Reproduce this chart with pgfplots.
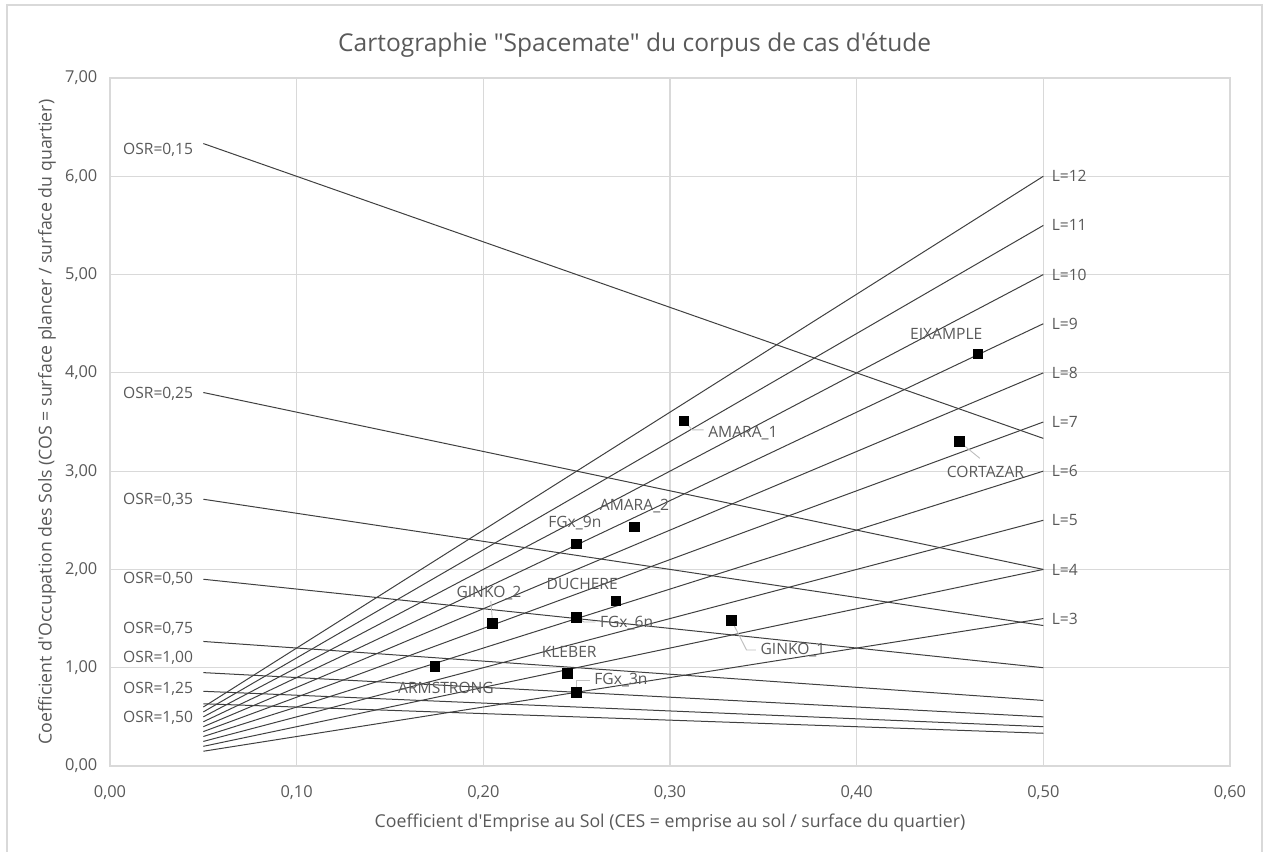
\documentclass[border=0pt]{standalone}
\usepackage{pgfplots}
\pgfplotsset{compat=1.18}
\usepackage{fontspec}
\setmainfont{Open Sans}[Ligatures=TeXOff]
\definecolor{txt}{HTML}{595959}
\definecolor{ln}{HTML}{404040}
\definecolor{grd}{HTML}{D9D9D9}
\definecolor{lead}{HTML}{BFBFBF}
\newcommand{\lbl}{\fontsize{11.7}{13}\selectfont\color{txt}}
\begin{document}
\begin{tikzpicture}
\useasboundingbox (0,0) rectangle (951pt,639pt);
\draw[grd, line width=1.2pt] (5.25pt,-10pt) rectangle (946.5pt,635.25pt);
\node[font=\fontsize{18.4}{22}\selectfont, text=txt] at (476pt,605pt) {Cartographie "Spacemate" du corpus de cas d'étude};
\begin{axis}[
    at={(82.5pt,64.5pt)}, anchor=south west,
    scale only axis, width=840pt, height=516pt,
    xmin=0, xmax=0.6, ymin=0, ymax=7,
    xtick={0,0.1,...,0.6}, ytick={0,1,...,7},
    grid=major, grid style={grd, line width=0.8pt},
    axis line style={grd, line width=0.8pt},
    major tick length=0pt,
    tick label style={font=\fontsize{12.3}{14}\selectfont, text=txt},
    /pgf/number format/.cd, fixed, fixed zerofill, precision=2, use comma, assume math mode=true,
    /pgfplots/.cd,
    xticklabel style={yshift=-11pt},
    yticklabel style={xshift=-6pt},
    xlabel={Coefficient d'Emprise au Sol (CES = emprise au sol / surface du quartier)},
    ylabel={Coefficient d'Occupation des Sols (COS = surface plancer / surface du quartier)},
    label style={font=\fontsize{13.3}{15}\selectfont, text=txt},
    xlabel style={yshift=-4pt},
    ylabel style={yshift=0pt},
    clip=false,
]
% lignes L (COS = L x CES)
\pgfplotsset{every axis plot/.append style={ln, line width=0.75pt}}
\addplot[no marks] coordinates {(0.05,0.15) (0.5,1.5)};
\addplot[no marks] coordinates {(0.05,0.20) (0.5,2.0)};
\addplot[no marks] coordinates {(0.05,0.25) (0.5,2.5)};
\addplot[no marks] coordinates {(0.05,0.30) (0.5,3.0)};
\addplot[no marks] coordinates {(0.05,0.35) (0.5,3.5)};
\addplot[no marks] coordinates {(0.05,0.40) (0.5,4.0)};
\addplot[no marks] coordinates {(0.05,0.45) (0.5,4.5)};
\addplot[no marks] coordinates {(0.05,0.50) (0.5,5.0)};
\addplot[no marks] coordinates {(0.05,0.55) (0.5,5.5)};
\addplot[no marks] coordinates {(0.05,0.60) (0.5,6.0)};
% lignes OSR
\addplot[no marks] coordinates {(0.05,6.333) (0.5,3.333)};
\addplot[no marks] coordinates {(0.05,3.800) (0.5,2.000)};
\addplot[no marks] coordinates {(0.05,2.714) (0.5,1.429)};
\addplot[no marks] coordinates {(0.05,1.900) (0.5,1.000)};
\addplot[no marks] coordinates {(0.05,1.267) (0.5,0.667)};
\addplot[no marks] coordinates {(0.05,0.950) (0.5,0.500)};
\addplot[no marks] coordinates {(0.05,0.760) (0.5,0.400)};
\addplot[no marks] coordinates {(0.05,0.633) (0.5,0.333)};
% cas d'etude
\addplot[only marks, mark=square*, black, mark size=3.6pt] coordinates {
    (0.465,4.19) (0.455,3.30) (0.3075,3.51) (0.281,2.43) (0.250,2.26) (0.271,1.68)
    (0.250,1.51) (0.333,1.48) (0.205,1.45) (0.174,1.01) (0.245,0.94) (0.250,0.75)
};
% etiquettes OSR
\node[anchor=east, font=\lbl] at (axis cs:0.047,6.27) {OSR=0,15};
\node[anchor=east, font=\lbl] at (axis cs:0.047,3.79) {OSR=0,25};
\node[anchor=east, font=\lbl] at (axis cs:0.047,2.71) {OSR=0,35};
\node[anchor=east, font=\lbl] at (axis cs:0.047,1.90) {OSR=0,50};
\node[anchor=east, font=\lbl] at (axis cs:0.047,1.40) {OSR=0,75};
\node[anchor=east, font=\lbl] at (axis cs:0.047,1.10) {OSR=1,00};
\node[anchor=east, font=\lbl] at (axis cs:0.047,0.78) {OSR=1,25};
\node[anchor=east, font=\lbl] at (axis cs:0.047,0.49) {OSR=1,50};
% etiquettes L
\node[anchor=west, font=\lbl] at (axis cs:0.502,1.5) {L=3};
\node[anchor=west, font=\lbl] at (axis cs:0.502,2.0) {L=4};
\node[anchor=west, font=\lbl] at (axis cs:0.502,2.5) {L=5};
\node[anchor=west, font=\lbl] at (axis cs:0.502,3.0) {L=6};
\node[anchor=west, font=\lbl] at (axis cs:0.502,3.5) {L=7};
\node[anchor=west, font=\lbl] at (axis cs:0.502,4.0) {L=8};
\node[anchor=west, font=\lbl] at (axis cs:0.502,4.5) {L=9};
\node[anchor=west, font=\lbl] at (axis cs:0.502,5.0) {L=10};
\node[anchor=west, font=\lbl] at (axis cs:0.502,5.5) {L=11};
\node[anchor=west, font=\lbl] at (axis cs:0.502,6.0) {L=12};
% etiquettes des cas
\draw[lead, line width=0.7pt] (axis cs:0.455,3.30) -- (axis cs:0.466,3.13);
\draw[lead, line width=0.7pt] (axis cs:0.3075,3.51) -- (axis cs:0.312,3.42) -- (axis cs:0.318,3.42);
\draw[lead, line width=0.7pt] (axis cs:0.250,1.51) -- (axis cs:0.254,1.465) -- (axis cs:0.260,1.465);
\draw[lead, line width=0.7pt] (axis cs:0.333,1.48) -- (axis cs:0.341,1.18) -- (axis cs:0.346,1.18);
\draw[lead, line width=0.7pt] (axis cs:0.205,1.45) -- (axis cs:0.204,1.68);
\draw[lead, line width=0.7pt] (axis cs:0.250,0.75) -- (axis cs:0.250,0.875) -- (axis cs:0.257,0.875);
\node[font=\lbl] at (axis cs:0.448,4.40) {EIXAMPLE};
\node[font=\lbl] at (axis cs:0.469,2.99) {CORTAZAR};
\node[anchor=west, font=\lbl] at (axis cs:0.318,3.39) {AMARA\_1};
\node[font=\lbl] at (axis cs:0.281,2.64) {AMARA\_2};
\node[font=\lbl] at (axis cs:0.249,2.47) {FGx\_9n};
\node[font=\lbl] at (axis cs:0.253,1.85) {DUCHERE};
\node[anchor=west, font=\lbl] at (axis cs:0.260,1.45) {FGx\_6n};
\node[anchor=west, font=\lbl] at (axis cs:0.346,1.18) {GINKO\_1};
\node[font=\lbl] at (axis cs:0.203,1.76) {GINKO\_2};
\node[font=\lbl] at (axis cs:0.180,0.79) {ARMSTRONG};
\node[font=\lbl] at (axis cs:0.246,1.16) {KLEBER};
\node[anchor=west, font=\lbl] at (axis cs:0.257,0.875) {FGx\_3n};
\end{axis}
\end{tikzpicture}
\end{document}
